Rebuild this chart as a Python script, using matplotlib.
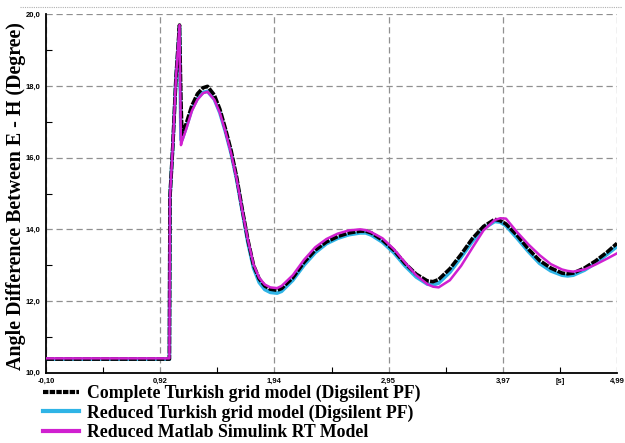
import matplotlib
matplotlib.use("Agg")
import matplotlib.pyplot as plt
from matplotlib.lines import Line2D

# time axis [s]
t = [-0.10, 1.00, 1.005, 1.03, 1.058, 1.09, 1.103, 1.112, 1.15, 1.2, 1.25, 1.3, 1.34,
     1.4, 1.45, 1.5, 1.55, 1.6, 1.65, 1.7, 1.75, 1.8, 1.85, 1.9, 1.96, 2.0, 2.1, 2.2,
     2.3, 2.4, 2.5, 2.6, 2.7, 2.75, 2.8, 2.9, 3.0, 3.1, 3.2, 3.3, 3.35, 3.4, 3.5, 3.6,
     3.7, 3.8, 3.9, 3.95, 4.0, 4.1, 4.2, 4.3, 4.4, 4.5, 4.55, 4.6, 4.7, 4.8, 4.9, 4.99]

complete = [10.38, 10.38, 14.9, 16.3, 18.2, 19.7, 17.6, 16.65, 16.95, 17.45, 17.78, 17.95, 17.99,
            17.75, 17.35, 16.8, 16.2, 15.45, 14.55, 13.7, 13.0, 12.62, 12.42, 12.33, 12.30, 12.35, 12.65, 13.08,
            13.42, 13.65, 13.8, 13.9, 13.95, 13.95, 13.9, 13.7, 13.42, 13.05, 12.75, 12.56, 12.54, 12.6, 12.9, 13.3,
            13.74, 14.08, 14.28, 14.24, 14.15, 13.83, 13.45, 13.13, 12.92, 12.78, 12.76, 12.78, 12.92, 13.12, 13.36, 13.61]

reduced = [10.38, 10.38, 14.9, 16.3, 18.2, 19.65, 16.5, 16.5, 16.85, 17.35, 17.65, 17.82, 17.85,
           17.63, 17.25, 16.72, 16.12, 15.38, 14.5, 13.62, 12.92, 12.52, 12.32, 12.24, 12.22, 12.27, 12.58, 13.0,
           13.35, 13.6, 13.75, 13.85, 13.9, 13.9, 13.84, 13.64, 13.35, 12.98, 12.67, 12.47, 12.45, 12.5, 12.8, 13.22,
           13.66, 14.02, 14.22, 14.2, 14.1, 13.75, 13.38, 13.05, 12.84, 12.72, 12.70, 12.72, 12.86, 13.06, 13.3, 13.52]

simulink = [10.4, 10.4, 14.9, 16.3, 18.2, 19.7, 16.35, 16.45, 16.8, 17.3, 17.62, 17.8, 17.84,
            17.62, 17.25, 16.72, 16.12, 15.4, 14.52, 13.7, 13.02, 12.65, 12.46, 12.38, 12.36, 12.42, 12.72, 13.15,
            13.5, 13.73, 13.88, 13.97, 14.0, 13.98, 13.92, 13.75, 13.45, 13.08, 12.72, 12.47, 12.4, 12.38, 12.58, 12.98,
            13.48, 13.97, 14.26, 14.31, 14.3, 13.92, 13.58, 13.28, 13.03, 12.88, 12.84, 12.82, 12.88, 13.02, 13.18, 13.33]

labels = ["Complete Turkish grid model (Digsilent PF)",
          "Reduced Turkish grid model (Digsilent PF)",
          "Reduced Matlab Simulink RT Model"]

xticks = [-0.10, 0.918, 1.936, 2.954, 3.972, 4.99]
xticklabels = ["-0,10", "0,92", "1,94", "2,95", "3,97", "4,99"]
xminor = [0.409, 1.427, 2.445, 3.463, 4.481]
xminorlabels = ["", "", "", "", "[s]"]
yticks = [10, 12, 14, 16, 18, 20]
yticklabels = ["10,0", "12,0", "14,0", "16,0", "18,0", "20,0"]
yminor = [11, 13, 15, 17, 19]

serif = "Liberation Serif"
cyan = "#2fb4e6"
magenta = "#d020d0"

fig = plt.figure(figsize=(6.25, 4.43), dpi=100)
ax = fig.add_axes([46/625, 1-372.7/443, 571/625, (372.7-14.3)/443])

ax.plot(t, reduced, color=cyan, lw=2.6, label=labels[1], zorder=3)
ax.plot(t, complete, color="black", lw=2.6, ls=(0, (2.2, 0.35)), label=labels[0], zorder=4)
ax.plot(t, simulink, color=magenta, lw=1.8, label=labels[2], zorder=5)

ax.set_xlim(-0.10, 4.99)
ax.set_ylim(10, 20)
ax.set_xticks(xticks)
ax.set_xticklabels(xticklabels)
ax.set_xticks(xminor, minor=True)
ax.set_xticklabels(xminorlabels, minor=True)
ax.set_yticks(yticks)
ax.set_yticklabels(yticklabels)
ax.set_yticks(yminor, minor=True)

ax.tick_params(which="major", length=0, pad=4)
ax.tick_params(which="minor", direction="in", length=4, width=0.8, pad=4)
for lab in ax.get_xticklabels() + ax.get_yticklabels() + ax.get_xticklabels(minor=True):
    lab.set_fontfamily("Liberation Sans")
    lab.set_fontweight("bold")
    lab.set_fontsize(5.5)

ax.grid(True, which="major", color="#909090", ls=(0, (5, 3)), lw=0.9)
for s in ["top", "right"]:
    ax.spines[s].set_visible(False)
for s in ["left", "bottom"]:
    ax.spines[s].set_linewidth(1.3)

fig.text(16/625, 1-196/443, "Angle Difference Between E - H (Degree)", rotation=90,
         ha="center", va="center", fontfamily=serif, fontweight="bold", fontsize=14.4)

# dotted frame line at top
fig.add_artist(Line2D([20/625, 622/625], [1-7/443, 1-7/443], transform=fig.transFigure,
                      color="#b0b0b0", lw=0.8, ls=(0, (1, 1))))

h = [Line2D([], [], color="black", lw=3, ls=(0, (1.3, 0.3))),
     Line2D([], [], color=cyan, lw=3),
     Line2D([], [], color=magenta, lw=3)]
fig.legend(h, labels, loc="upper left", bbox_to_anchor=(43/625, 1-385/443), frameon=False,
           prop={"family": serif, "weight": "bold", "size": 12.8}, handlelength=2.0,
           handletextpad=0.45, labelspacing=0.12, borderpad=0, borderaxespad=0)

fig.savefig("out.png", dpi=100)
